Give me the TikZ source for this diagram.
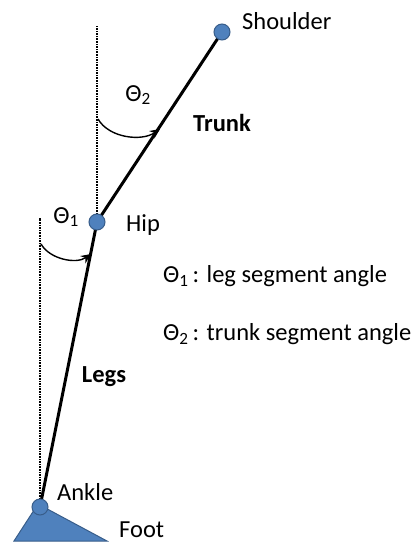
\documentclass[tikz,border=0pt]{standalone}
\usepackage{fontspec}
\setmainfont{Carlito}
\usepackage{tikz}
\usetikzlibrary{arrows.meta, positioning, calc}
\definecolor{jointblue}{HTML}{4F81BD}
\definecolor{jointedge}{HTML}{385D8A}

\begin{document}
\begin{tikzpicture}[
    x=1pt, y=-1pt,
    every node/.style={font=\fontsize{24.5}{29}\selectfont, inner sep=0pt},
    joint/.style={circle, fill=jointblue, draw=jointedge, line width=1pt, minimum size=16pt},
    segment/.style={line width=3pt, black},
    vertical/.style={densely dotted, line width=1.6pt},
    anglearc/.style={-{Stealth[length=10pt, width=9pt]}, line width=1.4pt},
    tag/.style={anchor=west}
]
    \useasboundingbox (0,0) rectangle (415,545);

    % Joints (coordinates first)
    \coordinate (ankle) at (40,507);
    \coordinate (hip) at (97,222);
    \coordinate (shoulder) at (222,32);
    \coordinate (ankletop) at (40,218);
    \coordinate (hiptop) at (97,26);

    % Foot
    \fill[jointblue, draw=jointedge, line width=1pt] (14,541) -- (38,504) -- (107,541) -- cycle;

    % Verticals
    \draw[vertical] (ankle) -- (ankletop);
    \draw[vertical] (hip) -- (hiptop);

    % Segments
    \draw[segment] (ankle) -- (hip);
    \draw[segment] (hip) -- (shoulder);

    % Joint nodes
    \node[joint] (anklej) at (ankle) {};
    \node[joint] (hipj) at (hip) {};
    \node[joint] (shoulderj) at (shoulder) {};

    % Angles
    \coordinate (a1s) at (41,244);
    \coordinate (a1e) at (91,254);
    \coordinate (a2s) at (98,119);
    \coordinate (a2e) at (160,129);
    \draw[anglearc] (a1s) to[out=-60, in=-145, looseness=0.9] (a1e);
    \draw[anglearc] (a2s) to[out=-60, in=-145, looseness=0.9] (a2e);
    \node (th1) at (66,217) {Θ\textsubscript{1}};
    \node (th2) at (138,95) {Θ\textsubscript{2}};

    % Labels
    \node[tag] (shoulderl) at (242,21) {Shoulder};
    \node[tag] (hipl) at (126,225) {Hip};
    \node[tag] (anklel) at (57,492) {Ankle};
    \node[tag] (footl) at (119,530) {Foot};
    \node[font=\fontsize{24.5}{29}\selectfont\bfseries] (trunkl) at (222,123) {Trunk};
    \node[font=\fontsize{24.5}{29}\selectfont\bfseries] (legsl) at (104,377) {Legs};

    % Legend
    \node[tag] (leg1) at (163,276) {Θ\textsubscript{1}\,: leg segment angle};
    \node[tag] (leg2) at (163,334) {Θ\textsubscript{2}\,: trunk segment angle};
\end{tikzpicture}
\end{document}
